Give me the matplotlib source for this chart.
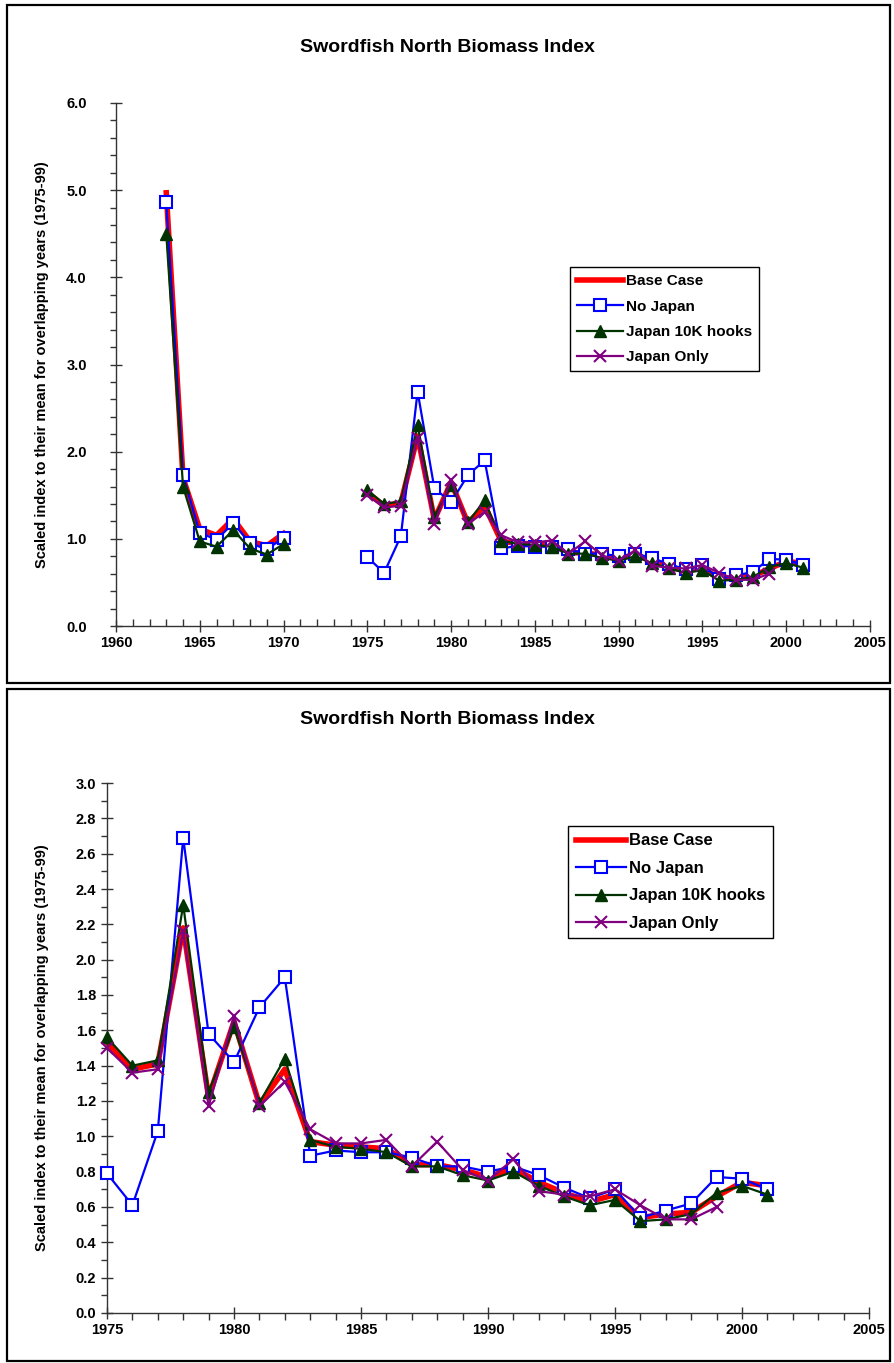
import numpy as np
import matplotlib as mpl
import matplotlib.pyplot as plt
from matplotlib.patches import Rectangle
from matplotlib.ticker import MultipleLocator, FormatStrFormatter

mpl.use("Agg")

plt.rcParams.update({"font.family": "Liberation Sans", "font.weight": "bold"})

# early block of the series (no Japan Only values before 1975)
years_early = list(range(1963, 1971))
base_early = [4.97, 1.70, 1.11, 1.04, 1.23, 0.97, 0.92, 1.06]
nojapan_early = [4.86, 1.73, 1.07, 0.99, 1.18, 0.95, 0.88, 1.01]
hooks_early = [4.50, 1.60, 0.97, 0.91, 1.10, 0.89, 0.82, 0.94]

# 1975 onwards
years_late = list(range(1975, 2002))
base_late = [1.53, 1.38, 1.41, 2.18, 1.22, 1.65, 1.18, 1.38, 0.97, 0.95,
             0.94, 0.93, 0.84, 0.84, 0.81, 0.77, 0.82, 0.74, 0.68, 0.63,
             0.67, 0.54, 0.56, 0.57, 0.66, 0.74, 0.72]
nojapan_late = [0.79, 0.61, 1.03, 2.69, 1.58, 1.42, 1.73, 1.90, 0.89, 0.92,
                0.91, 0.91, 0.88, 0.83, 0.83, 0.80, 0.83, 0.78, 0.71, 0.65,
                0.70, 0.54, 0.58, 0.62, 0.77, 0.76, 0.70]
hooks_late = [1.56, 1.40, 1.43, 2.31, 1.25, 1.62, 1.19, 1.44, 0.98, 0.94,
              0.93, 0.91, 0.83, 0.83, 0.78, 0.75, 0.80, 0.72, 0.66, 0.61,
              0.64, 0.52, 0.53, 0.56, 0.68, 0.72, 0.67]
years_japan = list(range(1975, 2000))
japan_only = [1.50, 1.36, 1.38, 2.16, 1.17, 1.68, 1.17, 1.31, 1.04, 0.96,
              0.96, 0.98, 0.83, 0.97, 0.81, 0.75, 0.87, 0.69, 0.67, 0.66,
              0.70, 0.61, 0.53, 0.53, 0.60]

labels = ["Base Case", "No Japan", "Japan 10K hooks", "Japan Only"]
title = "Swordfish North Biomass Index"
ylabel = "Scaled index to their mean for overlapping years (1975-99)"

W, H = 894, 1363
fig = plt.figure(figsize=(W / 100, H / 100), dpi=100)


def px_box(x0, y0, x1, y1):
    # pixel box (top-left origin) -> figure fraction [left, bottom, width, height]
    return [x0 / W, 1 - y1 / H, (x1 - x0) / W, (y1 - y0) / H]


styles = [
    dict(color="#ff0000", lw=4, zorder=2),
    dict(color="#0000ff", lw=1.6, marker="s", ms=8.5, mfc="white", mec="#0000ff", mew=1.5, zorder=3),
    dict(color="#003300", lw=1.6, marker="^", ms=8, mfc="#003300", mec="#003300", zorder=4),
    dict(color="#800080", lw=1.6, marker="x", ms=8, mew=1.5, zorder=5),
]


def draw_series(ax, with_early):
    if with_early:
        for vals, st in zip([base_early, nojapan_early, hooks_early], styles[:3]):
            ax.plot(years_early, vals, clip_on=False, **st)
    for yrs, vals, st, lab in zip(
        [years_late, years_late, years_late, years_japan],
        [base_late, nojapan_late, hooks_late, japan_only],
        styles,
        labels,
    ):
        ax.plot(yrs, vals, label=lab, clip_on=False, **st)


def style_axes(ax, minor_x_dir, ypad):
    for side in ["top", "right"]:
        ax.spines[side].set_visible(False)
    for side in ["left", "bottom"]:
        ax.spines[side].set_color("#333333")
        ax.spines[side].set_linewidth(1.0)
    ax.tick_params(which="major", direction="inout", length=8, width=1,
                   color="#333333", labelsize=10.5)
    ax.tick_params(axis="y", which="major", pad=ypad)
    ax.tick_params(axis="y", which="minor", direction="out", length=4, width=1, color="#333333")
    ax.tick_params(axis="x", which="minor", direction=minor_x_dir, length=5, width=1, color="#333333")
    ax.xaxis.set_major_locator(MultipleLocator(5))
    ax.xaxis.set_minor_locator(MultipleLocator(1))
    ax.yaxis.set_major_formatter(FormatStrFormatter("%.1f"))
    for t in ax.get_xticklabels() + ax.get_yticklabels():
        t.set_fontweight("bold")


# frames around each chart
fig.patches.append(Rectangle((7 / W, 1 - 683 / H), 883 / W, 678 / H, transform=fig.transFigure,
                             fill=False, ec="black", lw=1.6))
fig.patches.append(Rectangle((7 / W, 1 - 1361 / H), 883 / W, 672 / H, transform=fig.transFigure,
                             fill=False, ec="black", lw=1.6))

# top chart, 1960-2005
ax1 = fig.add_axes(px_box(116, 103, 870, 626))
draw_series(ax1, True)
ax1.set_xlim(1960, 2005)
ax1.set_ylim(0, 6)
ax1.yaxis.set_major_locator(MultipleLocator(1))
ax1.yaxis.set_minor_locator(MultipleLocator(0.2))
style_axes(ax1, "in", 17)
ax1.set_ylabel(ylabel, fontsize=10.5, fontweight="bold")
ax1.yaxis.set_label_coords(-0.089, 0.5)
fig.text(0.5, 1 - 47 / H, title, ha="center", va="center", fontsize=14, fontweight="bold")
ax1.legend(loc="upper left", bbox_to_anchor=(0.602, 0.686), borderaxespad=0,
           fancybox=False, edgecolor="black", framealpha=1,
           handlelength=3.0, labelspacing=0.75, handletextpad=0.2, borderpad=0.45,
           prop={"weight": "bold", "size": 11})

# bottom chart, 1975-2005
ax2 = fig.add_axes(px_box(107, 783, 869, 1313))
draw_series(ax2, False)
ax2.set_xlim(1975, 2005)
ax2.set_ylim(0, 3)
ax2.yaxis.set_major_locator(MultipleLocator(0.2))
ax2.yaxis.set_minor_locator(MultipleLocator(0.1))
style_axes(ax2, "out", 4)
ax2.set_ylabel(ylabel, fontsize=10.5, fontweight="bold")
ax2.yaxis.set_label_coords(-0.076, 0.5)
fig.text(0.5, 1 - 720 / H, title, ha="center", va="center", fontsize=14, fontweight="bold")
ax2.legend(loc="upper left", bbox_to_anchor=(0.605, 0.919), borderaxespad=0,
           fancybox=False, edgecolor="black", framealpha=1,
           handlelength=3.0, labelspacing=0.75, handletextpad=0.2, borderpad=0.45,
           prop={"weight": "bold", "size": 12})

fig.savefig("out.png", dpi=100)
plt.close(fig)
